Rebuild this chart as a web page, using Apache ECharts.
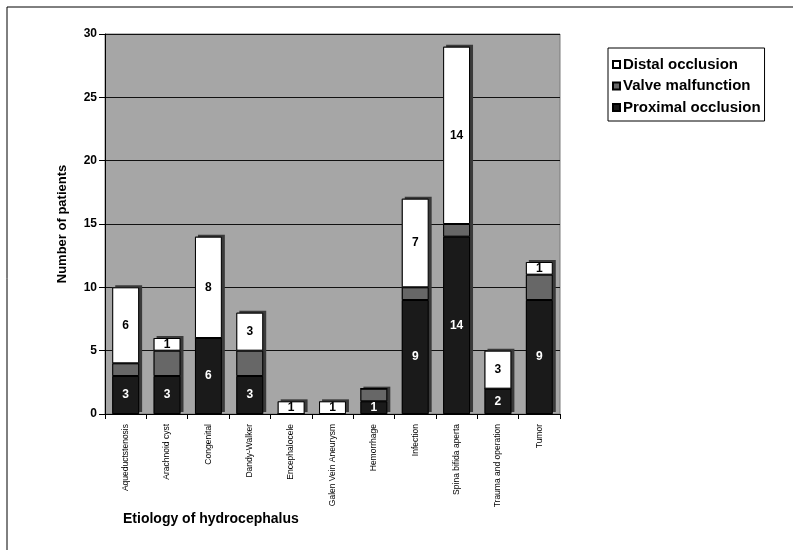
<!DOCTYPE html>
<html>
<head>
<meta charset="utf-8">
<script src="https://cdn.jsdelivr.net/npm/echarts@6/dist/echarts.min.js"></script>
<style>
  html, body { margin: 0; padding: 0; background: #ffffff; }
  #chart { width: 793px; height: 550px; }
</style>
</head>
<body>
<div id="chart"></div>
<script>
// Etiologies of hydrocephalus (x categories)
const categories = [
  'Aqueductstenosis', 'Arachnoid cyst', 'Congenital', 'Dandy-Walker',
  'Encephalocele', 'Galen Vein Aneurysm', 'Hemorrhage', 'Infection',
  'Spina bifida aperta', 'Trauma and operation', 'Tumor'
];
// Number of patients per failure type
const proximal = [3, 3, 6, 3, 0, 0, 1, 9, 14, 2, 9];
const valve    = [1, 2, 0, 2, 0, 0, 1, 1, 1, 0, 2];
const distal   = [6, 1, 8, 3, 1, 1, 0, 7, 14, 3, 1];
const yTicks = [0, 5, 10, 15, 20, 25, 30];

// column totals, used for the depth slab drawn behind each stack
const totals = categories.map((_, i) => proximal[i] + valve[i] + distal[i]);

const font = 'Liberation Sans, Arial, sans-serif';

function barSeries(name, data, fill, labelColor, showLabel) {
  return {
    name: name,
    type: 'bar',
    stack: 'total',
    barWidth: '65%',
    barGap: '-100%',
    data: data,
    itemStyle: { color: fill, borderColor: '#000', borderWidth: 1 },
    label: {
      show: showLabel,
      position: 'inside',
      color: labelColor,
      fontFamily: font,
      fontWeight: 'bold',
      fontSize: 12,
      formatter: p => (p.value > 0 ? String(p.value) : '')
    }
  };
}

const chart = echarts.init(document.getElementById('chart'), null, { renderer: 'canvas' });
chart.setOption({
  backgroundColor: '#ffffff',
  animation: false,
  textStyle: { fontFamily: font },
  grid: {
    left: 105, right: 233, top: 34, bottom: 136,
    show: true,
    backgroundColor: '#a6a6a6',
    borderColor: '#7a7a7a',
    borderWidth: 1
  },
  legend: {
    orient: 'vertical',
    left: 608,
    top: 48,
    padding: [9, 4, 6, 4],
    itemGap: 6.5,
    itemWidth: 7,
    itemHeight: 7,
    borderColor: '#000',
    borderWidth: 1,
    icon: 'rect',
    data: ['Distal occlusion', 'Valve malfunction', 'Proximal occlusion'],
    textStyle: { fontFamily: font, fontWeight: 'bold', fontSize: 15, color: '#000', padding: [0, 0, 0, -2] }
  },
  xAxis: {
    type: 'category',
    data: categories,
    name: 'Etiology of hydrocephalus',
    nameLocation: 'start',
    nameGap: 0,
    nameTextStyle: {
      fontFamily: font, fontWeight: 'bold', fontSize: 14, color: '#000',
      align: 'left', verticalAlign: 'top', padding: [98, 0, 0, 18]
    },
    axisLine: { show: true, lineStyle: { color: '#000', width: 1 } },
    axisTick: { show: true, length: 5, lineStyle: { color: '#000' } },
    axisLabel: {
      rotate: 90,
      interval: 0,
      fontSize: 8.5,
      color: '#000',
      margin: 10
    },
    splitLine: { show: false }
  },
  yAxis: {
    type: 'value',
    min: yTicks[0],
    max: yTicks[yTicks.length - 1],
    interval: 5,
    name: 'Number of patients',
    nameLocation: 'middle',
    nameGap: 36,
    nameTextStyle: { fontFamily: font, fontWeight: 'bold', fontSize: 13, color: '#000' },
    axisLine: { show: true, lineStyle: { color: '#000', width: 1 } },
    axisTick: { show: true, length: 6, lineStyle: { color: '#000' } },
    axisLabel: { fontWeight: 'bold', fontSize: 12, color: '#000', margin: 8 },
    splitLine: { show: true, lineStyle: { color: '#111', width: 1 } }
  },
  series: [
    {
      // dark slab behind each column giving the 3-D side/top edge
      name: 'depth',
      type: 'bar',
      barWidth: '65%',
      barGap: '-100%',
      data: totals,
      silent: true,
      itemStyle: {
        color: '#2b2b2b',
        shadowColor: '#3a3a3a',
        shadowOffsetX: 3,
        shadowOffsetY: -2,
        shadowBlur: 0
      },
      label: { show: false }
    },
    barSeries('Proximal occlusion', proximal, '#1a1a1a', '#ffffff', true),
    barSeries('Valve malfunction', valve, '#676767', '#ffffff', false),
    barSeries('Distal occlusion', distal, '#ffffff', '#000000', true)
  ],
  graphic: [
    { type: 'line', shape: { x1: 7, y1: 7, x2: 793, y2: 7 }, style: { stroke: '#000', lineWidth: 1 } },
    { type: 'line', shape: { x1: 7, y1: 7, x2: 7, y2: 550 }, style: { stroke: '#000', lineWidth: 1 } }
  ]
});
</script>
</body>
</html>
